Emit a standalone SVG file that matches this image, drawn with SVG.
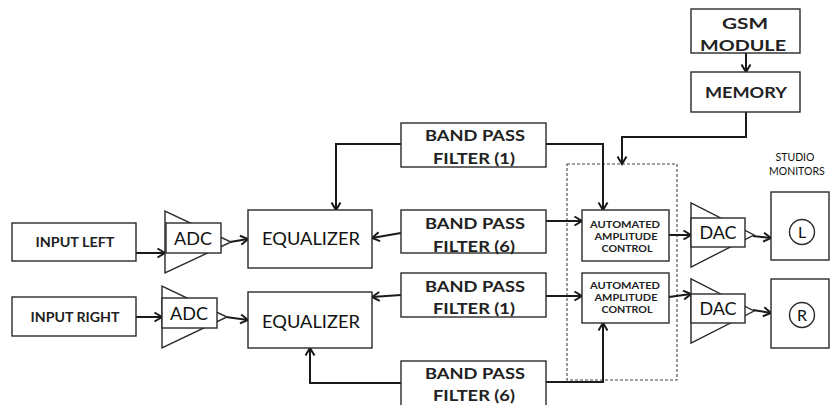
<svg xmlns="http://www.w3.org/2000/svg" width="832" height="405" viewBox="0 0 832 405">
<style>
.box{fill:#fff;stroke:#2a2a2a;stroke-width:1.4}
.tri{fill:#fff;stroke:#2a2a2a;stroke-width:1.4}
.ln{fill:none;stroke:#1a1a1a;stroke-width:2}
.dash{fill:none;stroke:#444;stroke-width:1.1;stroke-dasharray:3,2}
.b{font-family:Lato,"Liberation Sans",sans-serif;font-weight:bold;fill:#222;text-anchor:middle}
.r{font-family:Lato,"Liberation Sans",sans-serif;fill:#111;text-anchor:middle}
</style>
<defs>
<marker id="ah" markerUnits="userSpaceOnUse" markerWidth="12" markerHeight="12" viewBox="0 0 12 12" refX="10" refY="6" orient="auto">
<path d="M2.5,1.5 L10,6 L2.5,10.5" fill="none" stroke="#1a1a1a" stroke-width="2"/>
</marker>
</defs>
<rect class="dash" x="567" y="164" width="110" height="216"/>
<g id="connectors">
<path class="ln" marker-end="url(#ah)" d="M136,253 H165"/>
<path class="ln" marker-end="url(#ah)" d="M230,242 L248,239"/>
<path class="ln" marker-end="url(#ah)" d="M136,317 H162"/>
<path class="ln" marker-end="url(#ah)" d="M226,317 L248,320"/>
<path class="ln" marker-end="url(#ah)" d="M401,144 H336 V210"/>
<path class="ln" marker-end="url(#ah)" d="M401,233 L372,238"/>
<path class="ln" marker-end="url(#ah)" d="M401,295 L372,297"/>
<path class="ln" marker-end="url(#ah)" d="M401,383 H310 V348"/>
<path class="ln" marker-end="url(#ah)" d="M546,144 H603 V210"/>
<path class="ln" marker-end="url(#ah)" d="M546,221 H582"/>
<path class="ln" marker-end="url(#ah)" d="M546,296 H582"/>
<path class="ln" marker-end="url(#ah)" d="M546,382 H603 V323"/>
<path class="ln" marker-end="url(#ah)" d="M746,53 V72"/>
<path class="ln" marker-end="url(#ah)" d="M746,112 V137 H622 V164"/>
<path class="ln" marker-end="url(#ah)" d="M669,235 H691"/>
<path class="ln" marker-end="url(#ah)" d="M669,297 L691,294"/>
<path class="ln" marker-end="url(#ah)" d="M753,236 L771,238"/>
<path class="ln" marker-end="url(#ah)" d="M753,310 L771,313"/>
</g>
<g id="input-left"><rect class="box" x="12" y="223" width="124" height="38"/><text class="b" x="75" y="247" font-size="14" textLength="79" lengthAdjust="spacingAndGlyphs">INPUT LEFT</text></g>
<g id="input-right"><rect class="box" x="12" y="297" width="124" height="39"/><text class="b" x="75" y="322" font-size="14" textLength="89" lengthAdjust="spacingAndGlyphs">INPUT RIGHT</text></g>
<g id="adc-left"><polygon class="tri" points="165,211 165,273 231,242"/><rect class="box" x="166" y="223" width="55" height="30"/><text class="r" x="193" y="245" font-size="18">ADC</text></g>
<g id="adc-right"><polygon class="tri" points="162,286 162,348 227,317"/><rect class="box" x="162" y="298" width="55" height="30"/><text class="r" x="189" y="320" font-size="18">ADC</text></g>
<g id="eq-top"><rect class="box" x="248" y="210" width="124" height="58"/><text class="r" x="311" y="245" font-size="17" textLength="98" lengthAdjust="spacingAndGlyphs">EQUALIZER</text></g>
<g id="eq-bottom"><rect class="box" x="248" y="292" width="124" height="56"/><text class="r" x="311" y="328" font-size="17" textLength="98" lengthAdjust="spacingAndGlyphs">EQUALIZER</text></g>
<g id="bpf1-top"><rect class="box" x="401" y="123" width="145" height="44"/><text class="b" x="475" y="141" font-size="16" textLength="100" lengthAdjust="spacingAndGlyphs">BAND PASS</text><text class="b" x="474" y="164" font-size="16" textLength="82" lengthAdjust="spacingAndGlyphs">FILTER (1)</text></g>
<g id="bpf6-top"><rect class="box" x="401" y="210" width="145" height="43"/><text class="b" x="475" y="229" font-size="16" textLength="100" lengthAdjust="spacingAndGlyphs">BAND PASS</text><text class="b" x="474" y="252" font-size="16" textLength="82" lengthAdjust="spacingAndGlyphs">FILTER (6)</text></g>
<g id="bpf1-bottom"><rect class="box" x="401" y="273" width="145" height="44"/><text class="b" x="475" y="292" font-size="16" textLength="100" lengthAdjust="spacingAndGlyphs">BAND PASS</text><text class="b" x="474" y="314" font-size="16" textLength="82" lengthAdjust="spacingAndGlyphs">FILTER (1)</text></g>
<g id="bpf6-bottom"><rect class="box" x="401" y="361" width="145" height="50"/><text class="b" x="475" y="379" font-size="16" textLength="100" lengthAdjust="spacingAndGlyphs">BAND PASS</text><text class="b" x="474" y="401" font-size="16" textLength="82" lengthAdjust="spacingAndGlyphs">FILTER (6)</text></g>
<g id="aac-top"><rect class="box" x="582" y="210" width="87" height="51"/><text class="b" x="625" y="228" font-size="10" textLength="70" lengthAdjust="spacingAndGlyphs">AUTOMATED</text><text class="b" x="626" y="240" font-size="10" textLength="63" lengthAdjust="spacingAndGlyphs">AMPLITUDE</text><text class="b" x="627" y="252" font-size="10" textLength="51" lengthAdjust="spacingAndGlyphs">CONTROL</text></g>
<g id="aac-bottom"><rect class="box" x="582" y="273" width="87" height="50"/><text class="b" x="625" y="289" font-size="10" textLength="70" lengthAdjust="spacingAndGlyphs">AUTOMATED</text><text class="b" x="626" y="301" font-size="10" textLength="63" lengthAdjust="spacingAndGlyphs">AMPLITUDE</text><text class="b" x="627" y="313" font-size="10" textLength="51" lengthAdjust="spacingAndGlyphs">CONTROL</text></g>
<g id="dac-left"><polygon class="tri" points="691,203 691,267 754,235"/><rect class="box" x="691" y="218" width="54" height="29"/><text class="r" x="718" y="239" font-size="18">DAC</text></g>
<g id="dac-right"><polygon class="tri" points="691,279 691,343 754,311"/><rect class="box" x="691" y="294" width="54" height="29"/><text class="r" x="718" y="315" font-size="18">DAC</text></g>
<g id="monitor-l"><rect class="box" x="771" y="192" width="58" height="68"/><circle class="box" cx="802" cy="232" r="12.5"/><text class="r" x="802" y="238" font-size="16">L</text></g>
<g id="monitor-r"><rect class="box" x="771" y="279" width="58" height="69"/><circle class="box" cx="802" cy="315" r="12.5"/><text class="r" x="802" y="321" font-size="16">R</text></g>
<g id="studio-label"><text class="r" x="795" y="161" font-size="10.5">STUDIO</text><text class="r" x="769" y="175" font-size="10.5" style="text-anchor:start">MONITORS</text></g>
<g id="gsm"><rect class="box" x="691" y="9" width="109" height="44"/><text class="b" x="745" y="29" font-size="16" textLength="46" lengthAdjust="spacingAndGlyphs">GSM</text><text class="b" x="743" y="51" font-size="16" textLength="86" lengthAdjust="spacingAndGlyphs">MODULE</text></g>
<g id="memory"><rect class="box" x="691" y="72" width="109" height="40"/><text class="b" x="746" y="98" font-size="16" textLength="82" lengthAdjust="spacingAndGlyphs">MEMORY</text></g>
</svg>
